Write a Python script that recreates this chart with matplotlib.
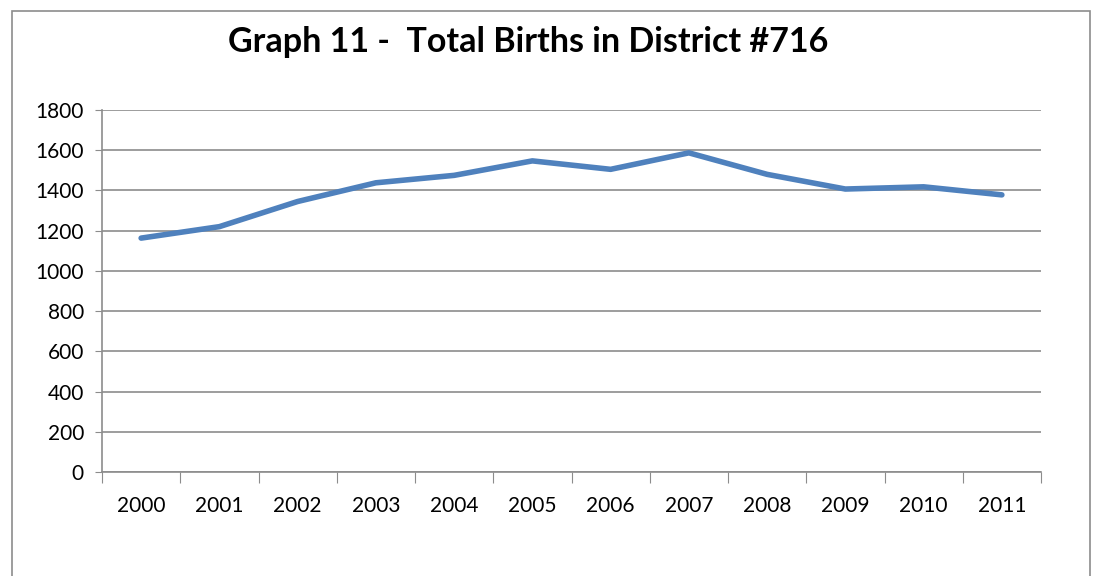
import matplotlib
matplotlib.use("Agg")
import matplotlib.pyplot as plt
from matplotlib.patches import Rectangle
import numpy as np

years = ["2000", "2001", "2002", "2003", "2004", "2005", "2006", "2007", "2008", "2009", "2010", "2011"]
births = [1163, 1220, 1345, 1438, 1475, 1547, 1505, 1587, 1480, 1407, 1418, 1378]
yticks = [0, 200, 400, 600, 800, 1000, 1200, 1400, 1600, 1800]

W, H = 1098, 576
fig = plt.figure(figsize=(W/100, H/100), dpi=100)
fig.patch.set_facecolor("white")
font = "Lato"

# outer chart border
fig.add_artist(Rectangle((12/W, -0.05), (1090-12)/W, 1.05 - 11/H, transform=fig.transFigure,
                         fill=False, edgecolor="#8c8c8c", linewidth=1.2))

left, right, top, bottom = 102, 1041, 110, 472
ax = fig.add_axes([left/W, 1-bottom/H, (right-left)/W, (bottom-top)/H])

x = np.arange(len(years))
ax.plot(x, births, color="#4f81bd", linewidth=4, solid_capstyle="round", solid_joinstyle="round", zorder=3)

ax.set_xlim(-0.5, len(years)-0.5)
ax.set_ylim(0, 1800)
ax.set_yticks(yticks)
ax.set_yticklabels([str(v) for v in yticks], fontsize=15, family=font)
ax.yaxis.grid(True, color="#8c8c8c", linewidth=1.2)
ax.set_axisbelow(True)

ax.set_xticks(np.arange(-0.5, len(years), 1.0))
ax.set_xticklabels([])
ax.set_xticks(x, minor=True)
ax.set_xticklabels(years, minor=True, fontsize=15, family=font)
ax.tick_params(axis="x", which="major", length=8, color="#8c8c8c", direction="out")
ax.tick_params(axis="x", which="minor", length=0, pad=17)
ax.tick_params(axis="y", length=5, color="#8c8c8c", pad=8)

for s in ["top", "right"]:
    ax.spines[s].set_visible(False)
for s in ["left", "bottom"]:
    ax.spines[s].set_color("#8c8c8c")
    ax.spines[s].set_linewidth(1.2)

fig.text(528/W, 1-42/H, "Graph 11 -  Total Births in District #716", ha="center", va="center",
         fontsize=24.5, fontweight="bold", family=font)

fig.savefig("out.png", dpi=100)
